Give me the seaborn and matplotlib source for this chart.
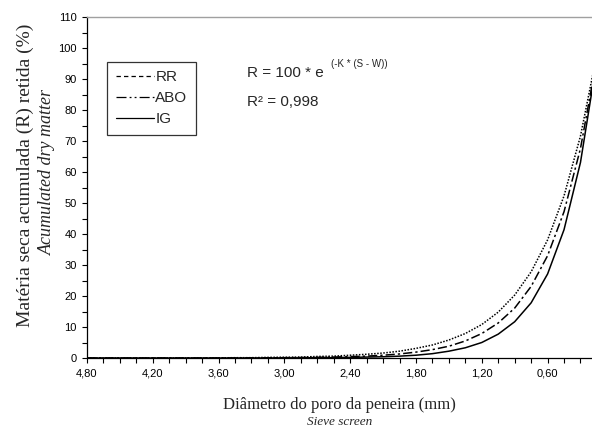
import numpy as np
import pandas as pd
import matplotlib
matplotlib.use("Agg")
import matplotlib.pyplot as plt
from matplotlib.lines import Line2D
from matplotlib.ticker import MultipleLocator, FixedLocator, FuncFormatter
import seaborn as sns

# Sieve screen openings (mm), read every 0.15 mm from the chart
sieve = [4.80, 4.65, 4.50, 4.35, 4.20, 4.05, 3.90, 3.75, 3.60, 3.45, 3.30, 3.15,
         3.00, 2.85, 2.70, 2.55, 2.40, 2.25, 2.10, 1.95, 1.80, 1.65, 1.50, 1.35,
         1.20, 1.05, 0.90, 0.75, 0.60, 0.45, 0.30, 0.15]

# Accumulated retained dry matter (%) for each treatment
rr = [0, 0, 0, 0, 0, 0, 0, 0, 0.05, 0.1, 0.1, 0.2,
      0.25, 0.3, 0.5, 0.6, 0.9, 1.2, 1.6, 2.2, 3.1, 4.2, 5.8, 7.9,
      10.8, 14.8, 20.3, 27.8, 38.1, 52.3, 71.6, 98.1]
abo = [0, 0, 0, 0, 0, 0, 0, 0, 0, 0, 0.05, 0.05,
       0.1, 0.15, 0.2, 0.3, 0.45, 0.6, 0.9, 1.3, 1.9, 2.7, 3.8, 5.5,
       7.9, 11.3, 16.1, 23.1, 33.0, 47.2, 67.6, 96.7]
ig = [0, 0, 0, 0, 0, 0, 0, 0, 0, 0, 0, 0,
      0.05, 0.05, 0.1, 0.1, 0.2, 0.3, 0.4, 0.6, 0.9, 1.4, 2.2, 3.3,
      5.0, 7.7, 11.7, 17.8, 27.1, 41.4, 63.1, 96.2]

series = ["RR", "ABO", "IG"]
xticks_major = [4.80, 4.20, 3.60, 3.00, 2.40, 1.80, 1.20, 0.60]

df = pd.concat([
    pd.DataFrame({"sieve": sieve, "R": rr, "trat": "RR"}),
    pd.DataFrame({"sieve": sieve, "R": abo, "trat": "ABO"}),
    pd.DataFrame({"sieve": sieve, "R": ig, "trat": "IG"}),
], ignore_index=True)

sns.set_style("ticks")
plt.rcParams["font.family"] = ["Liberation Sans", "DejaVu Sans"]

fig = plt.figure(figsize=(5.92, 4.34), dpi=100)
ax = fig.add_axes([87 / 592, 76 / 434, 505 / 592, 341 / 434])

dashes = {"RR": (1, 1), "ABO": (6, 2, 1.5, 2), "IG": ""}
sns.lineplot(data=df, x="sieve", y="R", hue="trat", style="trat", dashes=dashes,
             palette={s: "black" for s in series}, linewidth=1.1, legend=False,
             ax=ax, sort=False)

ax.set_xlim(4.80, 0.195)
ax.set_ylim(0, 110)
ax.xaxis.set_major_locator(FixedLocator(xticks_major))
ax.xaxis.set_minor_locator(FixedLocator(sieve))
ax.xaxis.set_major_formatter(FuncFormatter(lambda v, p: f"{v:.2f}".replace(".", ",")))
ax.yaxis.set_major_locator(MultipleLocator(10))
ax.yaxis.set_minor_locator(MultipleLocator(5))
ax.tick_params(which="both", direction="out", length=3.5, width=0.8, colors="black",
               labelsize=8, pad=4)

for side in ["left", "bottom"]:
    ax.spines[side].set_color("black")
    ax.spines[side].set_linewidth(0.9)
ax.spines["top"].set_color("#a0a0a0")
ax.spines["top"].set_linewidth(1.0)
ax.spines["right"].set_visible(False)

serif = ["Liberation Serif", "DejaVu Serif"]
ax.set_xlabel("")
ax.set_ylabel("")
fig.text(0.574, 0.067, "Diâmetro do poro da peneira (mm)", ha="center", va="center",
         family=serif, fontsize=12)
fig.text(0.574, 0.027, "Sieve screen", ha="center", va="center",
         family=serif, fontsize=9.5, style="italic")
fig.text(0.042, 0.597, "Matéria seca acumulada (R) retida (%)", ha="center", va="center",
         rotation=90, family=serif, fontsize=14)
fig.text(0.080, 0.604, "Acumulated dry matter", ha="center", va="center",
         rotation=90, family=serif, fontsize=13, style="italic")

handles = [
    Line2D([], [], color="black", lw=0.9, dashes=(3.5, 2.5)),
    Line2D([], [], color="black", lw=0.9, dashes=(8, 2.5, 1.5, 2.5, 1.5, 2.5)),
    Line2D([], [], color="black", lw=0.9),
]
leg = ax.legend(handles, series, loc="upper left", bbox_to_anchor=(0.040, 0.868),
                frameon=True, fancybox=False, fontsize=11, handlelength=2.5,
                handletextpad=0.1, borderpad=0.55, labelspacing=0.45,
                borderaxespad=0)
leg.get_frame().set_edgecolor("black")
leg.get_frame().set_linewidth(0.9)

eq = ax.text(0.317, 0.836, "R = 100 * e", transform=ax.transAxes, fontsize=11,
             va="center", ha="left")
ax.annotate("(-K * (S - W))", xy=(1, 0.75), xycoords=eq, xytext=(5, 0),
            textcoords="offset points", fontsize=7, va="bottom", ha="left")
ax.text(0.317, 0.750, "R² = 0,998", transform=ax.transAxes, fontsize=11,
        va="center", ha="left")

fig.savefig("out.png", dpi=100)
